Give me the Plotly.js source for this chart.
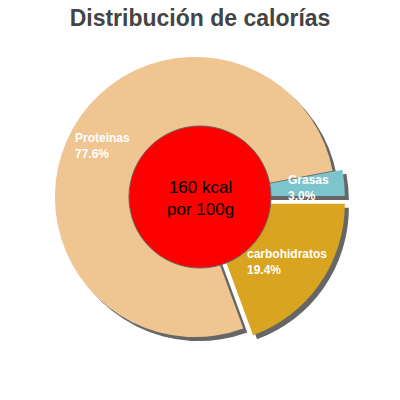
<!DOCTYPE html>
<html>
<head>
<meta charset="utf-8">
<script src="https://cdn.plot.ly/plotly-3.0.1.min.js"></script>
<style>
  html, body { margin: 0; padding: 0; background: #fff; }
  #graph { width: 400px; height: 400px; }
</style>
</head>
<body>
<div id="graph"></div>
<script>
// slices, in drawing order (clockwise from the top of Grasas)
var labels = ['Grasas', 'carbohidratos', 'Proteinas'];
var percents = [3.0, 19.4, 77.6];
var colors = ['#7ec4cc', '#d9a521', '#efc592'];
var pulls = [0.07, 0.085, 0];
var kcal = 160;
var centerText = ['160 kcal', 'por 100g'];
var title = 'Distribución de calorías';

// label positions in pixels (x left, y middle of the two lines)
var labelPos = [[287, 188], [246, 262], [74, 146]];

function px(x) { return x / 400; }
function py(y) { return 1 - y / 400; }

function pieDomain(cx, cy, half) {
    return {
        x: [px(cx - half), px(cx + half)],
        y: [py(cy + half), py(cy - half)]
    };
}

var shadow = {
    type: 'pie',
    values: percents,
    labels: labels,
    sort: false,
    direction: 'clockwise',
    rotation: 90 - percents[0] * 3.6,
    pull: pulls,
    marker: { colors: ['#666', '#666', '#666'], line: { width: 0 } },
    textinfo: 'none',
    hoverinfo: 'skip',
    showlegend: false,
    domain: pieDomain(199, 201, 152)
};

var main = {
    type: 'pie',
    values: percents,
    labels: labels,
    sort: false,
    direction: 'clockwise',
    rotation: 90 - percents[0] * 3.6,
    pull: pulls,
    marker: { colors: colors, line: { width: 0 } },
    textinfo: 'none',
    showlegend: false,
    domain: pieDomain(195, 197, 152)
};

var center = {
    type: 'pie',
    values: [kcal],
    labels: ['kcal'],
    sort: false,
    marker: { colors: ['#ff0000'], line: { color: '#666', width: 1 } },
    textinfo: 'none',
    showlegend: false,
    domain: pieDomain(200, 197, 71)
};

var labelFont = { family: 'Liberation Sans, Arial, sans-serif', size: 12, color: '#fff', weight: 'bold' };
var annotations = [];
for (var i = 0; i < labels.length; i++) {
    annotations.push({
        xref: 'paper', yref: 'paper',
        x: px(labelPos[i][0]), y: py(labelPos[i][1]),
        xanchor: 'left', yanchor: 'middle', align: 'left', borderpad: 0,
        text: labels[i] + '<br>' + percents[i].toFixed(1) + '%',
        showarrow: false, font: labelFont
    });
}
annotations.push({
    xref: 'paper', yref: 'paper', x: px(200), y: py(198),
    xanchor: 'center', yanchor: 'middle', align: 'center', borderpad: 0,
    text: centerText.join('<br>'), showarrow: false,
    font: { family: 'Liberation Sans, Arial, sans-serif', size: 17, color: '#000' }
});

var layout = {
    width: 400,
    height: 400,
    margin: { l: 0, r: 0, t: 0, b: 0 },
    paper_bgcolor: '#fff',
    title: {
        text: '<b>' + title + '</b>',
        x: 0.5, xanchor: 'center',
        y: 1 - 18 / 400, yanchor: 'middle', yref: 'container',
        font: { family: 'Liberation Sans, Arial, sans-serif', size: 23, color: '#444' }
    },
    annotations: annotations
};

Plotly.newPlot('graph', [shadow, main, center], layout, { displayModeBar: false, staticPlot: true });
</script>
</body>
</html>
